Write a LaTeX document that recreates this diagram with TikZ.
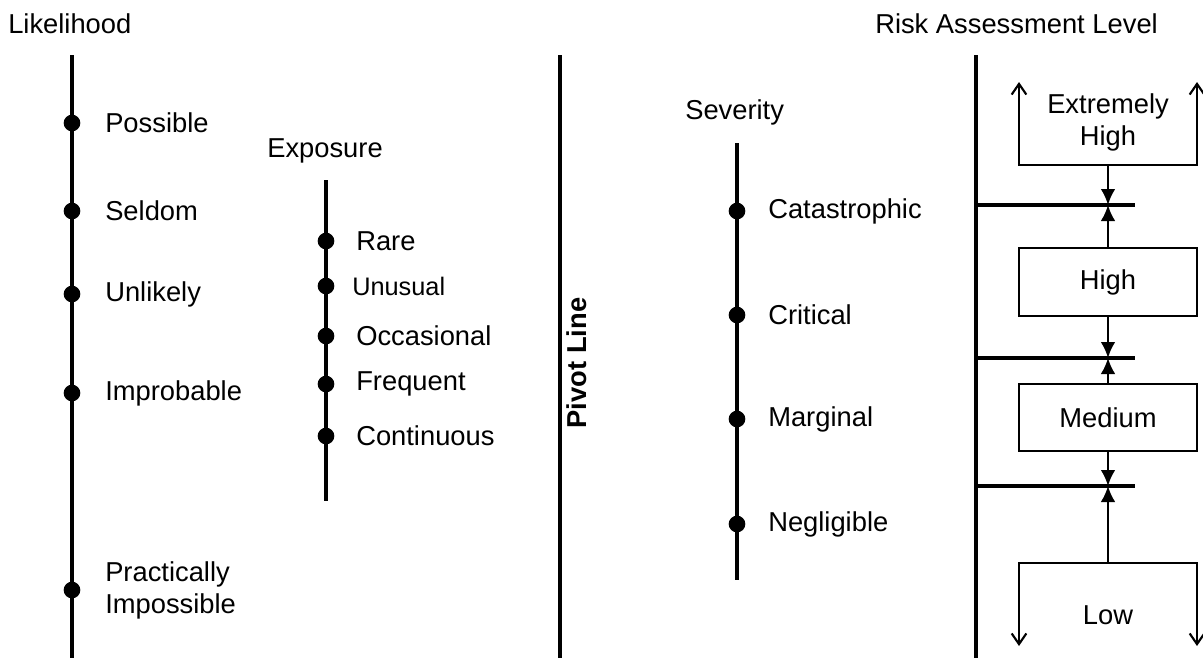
\documentclass[tikz,border=0pt]{standalone}
\usepackage{fontspec}
\setmainfont{Liberation Sans}
\usetikzlibrary{arrows.meta,positioning}

\begin{document}
\begin{tikzpicture}[x=0.75pt, y=-0.75pt,
    axis/.style={line width=2.5pt},
    dot/.style={circle, fill=black, inner sep=0pt, minimum size=12.5pt},
    lbl/.style={anchor=west, inner sep=0pt, font=\fontsize{20.5}{24}\selectfont, align=left},
    ttl/.style={anchor=west, inner sep=0pt, font=\fontsize{20.5}{24}\selectfont},
    lvlbox/.style={draw, line width=1.6pt, minimum width=133.5pt, inner sep=0pt, font=\fontsize{20.5}{24}\selectfont, align=center},
    tick/.style={line width=2.5pt},
    meet/.style={line width=1.6pt, -{Latex[length=12pt, width=11pt]}},
    open/.style={line width=1.6pt, -{Straight Barb[length=8pt, width=11pt]}}]
    \useasboundingbox (0,0) rectangle (1203,658);

    % Likelihood
    \node[ttl] (likT) at (8,24) {Likelihood};
    \coordinate (likA) at (72,55);
    \coordinate (likB) at (72,658);
    \draw[axis] (likA) -- (likB);
    \foreach \n/\y/\t in {1/123/Possible, 2/211/Seldom, 3/294/Unlikely, 4/393/Improbable, 5/590/{Practically\\Impossible}} {
        \node[dot] (lik\n) at (72,\y) {};
        \node[lbl] (likL\n) at (105,\y) {\t};
    }

    % Exposure
    \node[ttl] (expT) at (267,151) {Exposure};
    \coordinate (expA) at (326,180);
    \coordinate (expB) at (326,501);
    \draw[axis] (expA) -- (expB);
    \foreach \n/\y/\t in {1/241/Rare, 3/336/Occasional, 4/384/Frequent, 5/436/Continuous} {
        \node[dot] (exp\n) at (326,\y) {};
        \node[lbl] (expL\n) at (356,\y) {\t};
    }
    \node[dot] (exp2) at (326,286) {};
    \node[lbl, font=\fontsize{19}{22}\selectfont] (expL2) at (352,286) {Unusual};

    % Pivot line
    \coordinate (pivA) at (560,55);
    \coordinate (pivB) at (560,658);
    \draw[axis] (pivA) -- (pivB);
    \node[rotate=90, inner sep=0pt, font=\fontsize{20.5}{24}\selectfont\bfseries] (pivL) at (577,363) {Pivot Line};

    % Severity
    \node[ttl] (sevT) at (685,112) {Severity};
    \coordinate (sevA) at (737,143);
    \coordinate (sevB) at (737,580);
    \draw[axis] (sevA) -- (sevB);
    \foreach \n/\y/\t in {1/211/Catastrophic, 2/315/Critical, 3/419/Marginal, 4/524/Negligible} {
        \node[dot] (sev\n) at (737,\y) {};
        \node[lbl] (sevL\n) at (768,\y) {\t};
    }

    % Risk assessment level
    \node[ttl] (rskT) at (875,24) {Risk Assessment Level};
    \coordinate (rskA) at (976,55);
    \coordinate (rskB) at (976,658);
    \draw[axis] (rskA) -- (rskB);
    \foreach \n/\y in {1/205, 2/358, 3/486} {
        \coordinate (cut\n) at (1108,\y);
        \draw[tick] (976,\y) -- (1135,\y);
    }

    % Levels
    \node[lvlbox, minimum height=51pt] (high) at (1108,282) {High};
    \node[lvlbox, minimum height=50pt] (med) at (1108,417.5) {Medium};
    \node[lbl, anchor=center, align=center] (xhigh) at (1108,122) {Extremely\\High};
    \node[lbl, anchor=center] (low) at (1108,615) {Low};
    \coordinate (xhL) at (1019,165);
    \coordinate (xhR) at (1197,165);
    \coordinate (xhM) at (1108,165);
    \coordinate (loL) at (1019,563);
    \coordinate (loR) at (1197,563);
    \coordinate (loM) at (1108,563);
    \draw[open] (xhL) -- (xhR) -- (1197,82);
    \draw[open] (xhR) -- (xhL) -- (1019,82);
    \draw[open] (loL) -- (loR) -- (1197,646);
    \draw[open] (loR) -- (loL) -- (1019,646);

    % Arrows to the cut lines
    \draw[meet] (xhM) -- (cut1);
    \draw[meet] (high.north) -- (cut1);
    \draw[meet] (high.south) -- (cut2);
    \draw[meet] (med.north) -- (cut2);
    \draw[meet] (med.south) -- (cut3);
    \draw[meet] (loM) -- (cut3);
\end{tikzpicture}
\end{document}
